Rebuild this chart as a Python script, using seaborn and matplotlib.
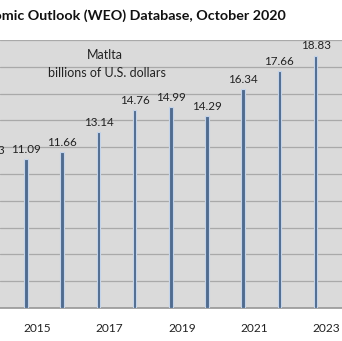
import matplotlib
matplotlib.use("Agg")
import matplotlib.pyplot as plt
import matplotlib.transforms as mtransforms
import seaborn as sns
import pandas as pd

years = ["2014", "2015", "2016", "2017", "2018", "2019", "2020", "2021", "2022", "2023"]
gdp = [11.03, 11.09, 11.66, 13.14, 14.76, 14.99, 14.29, 16.34, 17.66, 18.83]
tick_years = ["2015", "2017", "2019", "2021", "2023"]
title = "International Monetary Fund, World Economic Outlook (WEO) Database, October 2020"
country = "Matlta"
unit = "billions of U.S. dollars"

df = pd.DataFrame({"year": years, "gdp": gdp})

sns.set_theme(style="white")
plt.rcParams["font.family"] = ["Lato", "DejaVu Sans"]

fig = plt.figure(figsize=(3.42, 3.41), dpi=100)
fig.patch.set_facecolor("white")
ax = fig.add_axes([0.0, 0.0968, 1.0, 0.786])
ax.set_facecolor("#dadada")

sns.barplot(data=df, x="year", y="gdp", order=years, color="#4f6b8f",
            width=0.1, edgecolor="#c4d4ea", linewidth=0.8, saturation=1,
            ax=ax, zorder=3)

ax.set_ylim(0, 20)
ax.set_xlim(0.28, 9.73)
ax.set_yticks(range(0, 21, 2))
ax.yaxis.grid(True, color="#a9a9a9", linewidth=0.9)
ax.set_axisbelow(True)
ax.tick_params(axis="y", left=False, labelleft=False)
ax.tick_params(axis="x", bottom=False, length=0, labelsize=8.6, pad=11, colors="#222222")
for s in ["left", "right", "top"]:
    ax.spines[s].set_visible(False)
ax.spines["bottom"].set_color("#9a9a9a")
ax.set_xlabel("")
ax.set_ylabel("")

ax.set_xticks([years.index(y) for y in tick_years])
ax.set_xticklabels(tick_years)
offset = mtransforms.ScaledTranslation(0.11, 0, fig.dpi_scale_trans)
for lbl in ax.get_xticklabels():
    lbl.set_transform(lbl.get_transform() + offset)

for c in ax.containers:
    ax.bar_label(c, labels=[f"{v:.2f}" for v in gdp], padding=3,
                 fontsize=8.4, color="#222222", annotation_clip=False)

ax.text(0.307, 0.944, country, transform=ax.transAxes, ha="center", va="center",
        fontsize=9, color="#222222")
ax.text(0.313, 0.877, unit, transform=ax.transAxes, ha="center", va="center",
        fontsize=9, color="#222222")

fig.text(286 / 342, 1 - 16 / 341, title, ha="right", va="center",
         fontsize=10.3, fontweight="bold", color="#111111")

fig.savefig("out.png", dpi=100, facecolor="white")
